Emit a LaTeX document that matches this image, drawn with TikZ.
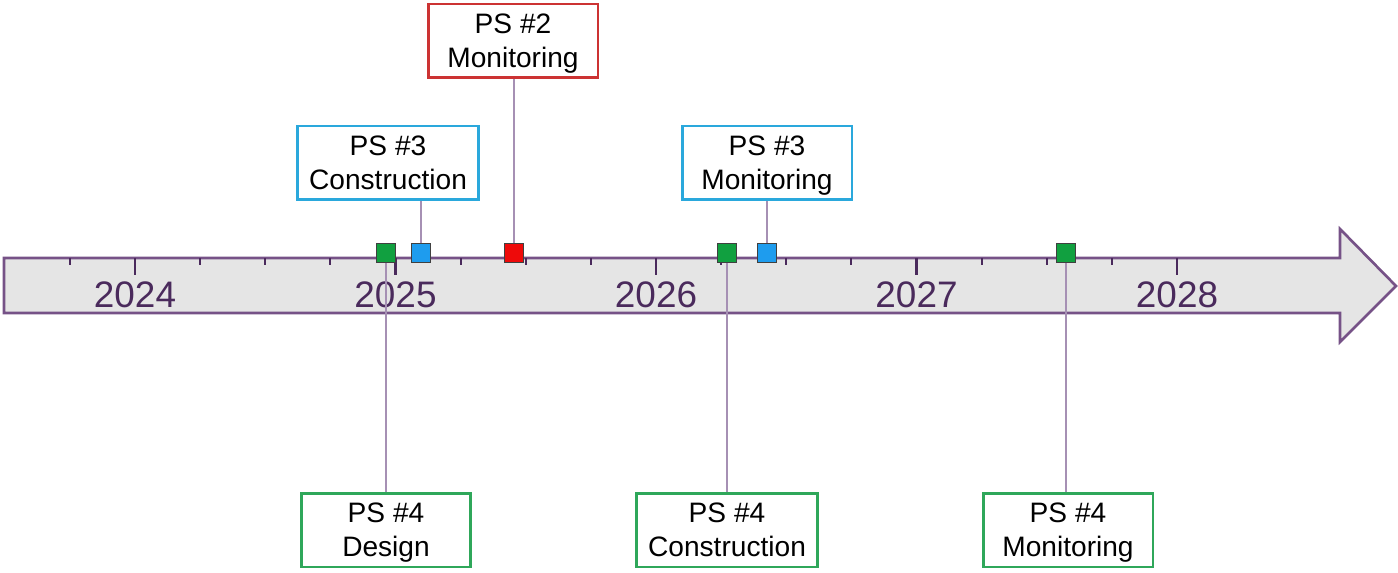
\documentclass[tikz,border=0pt]{standalone}
\usepackage{fontspec}
\setmainfont{Liberation Sans}

\definecolor{axisline}{HTML}{765287}
\definecolor{yeartext}{HTML}{4A2A5C}
\definecolor{axisfill}{HTML}{E5E5E5}
\definecolor{stemline}{HTML}{A690B4}
\definecolor{redbox}{HTML}{CC3333}
\definecolor{cyanbox}{HTML}{2AA8DC}
\definecolor{greenbox}{HTML}{2FA75A}
\definecolor{redmark}{HTML}{EE0A0A}
\definecolor{bluemark}{HTML}{1E9CEE}
\definecolor{greenmark}{HTML}{11A040}

\begin{document}
\begin{tikzpicture}[x=0.02cm, y=-0.02cm,
  psbox/.style = {shape=rectangle, draw, line width=1.7pt, fill=white,
    align=center, minimum width=3.4cm, minimum height=1.48cm,
    inner xsep=0.24cm, text height=32pt, text depth=2pt,
    font=\fontsize{16}{19}\selectfont},
  dot/.style = {shape=rectangle, draw=black!75, line width=0.8pt,
    minimum size=0.39cm, inner sep=0pt},
  stem/.style = {draw=stemline, line width=1.1pt},
  year/.style = {text=yeartext, font=\fontsize{21}{25}\selectfont}]

  \useasboundingbox (0,0) rectangle (1398,573);

  % time axis
  \draw[axisline, line width=1.5pt, fill=axisfill, line join=miter]
    (4,258) -- (1340,258) -- (1340,229) -- (1396,286)
    -- (1340,342) -- (1340,313) -- (4,313) -- cycle;
  \foreach \k in {-1,...,16} {
    \pgfmathsetmacro{\tx}{135+65.125*\k}
    \pgfmathsetmacro{\tl}{mod(\k+4,4)==0 ? 275 : 265}
    \draw[yeartext, line width=1.2pt] (\tx,258) -- (\tx,\tl);
  }
  \foreach \yr [count=\i from 0] in {2024,...,2028}
    \node[year] (y\yr) at (135+260.5*\i,295) {\yr};

  % milestones
  \node[psbox, draw=redbox] (ps2mon) at (513,41) {PS \#2\\Monitoring};
  \node[psbox, draw=cyanbox] (ps3con) at (388,163) {PS \#3\\Construction};
  \node[psbox, draw=cyanbox] (ps3mon) at (767,163) {PS \#3\\Monitoring};
  \node[psbox, draw=greenbox] (ps4des) at (386,530) {PS \#4\\Design};
  \node[psbox, draw=greenbox] (ps4con) at (727,530) {PS \#4\\Construction};
  \node[psbox, draw=greenbox] (ps4mon) at (1068,530) {PS \#4\\Monitoring};

  \coordinate (m4des) at (386,253);
  \coordinate (m3con) at (421,253);
  \coordinate (m2mon) at (514,253);
  \coordinate (m4con) at (727,253);
  \coordinate (m3mon) at (767,253);
  \coordinate (m4mon) at (1066,253);

  \draw[stem] (m4des) -- (m4des |- ps4des.north);
  \draw[stem] (m4con) -- (m4con |- ps4con.north);
  \draw[stem] (m4mon) -- (m4mon |- ps4mon.north);
  \draw[stem] (m3con) -- (m3con |- ps3con.south);
  \draw[stem] (m3mon) -- (m3mon |- ps3mon.south);
  \draw[stem] (m2mon) -- (m2mon |- ps2mon.south);

  \node[dot, fill=greenmark] (d4des) at (m4des) {};
  \node[dot, fill=bluemark] (d3con) at (m3con) {};
  \node[dot, fill=redmark] (d2mon) at (m2mon) {};
  \node[dot, fill=greenmark] (d4con) at (m4con) {};
  \node[dot, fill=bluemark] (d3mon) at (m3mon) {};
  \node[dot, fill=greenmark] (d4mon) at (m4mon) {};
\end{tikzpicture}
\end{document}
